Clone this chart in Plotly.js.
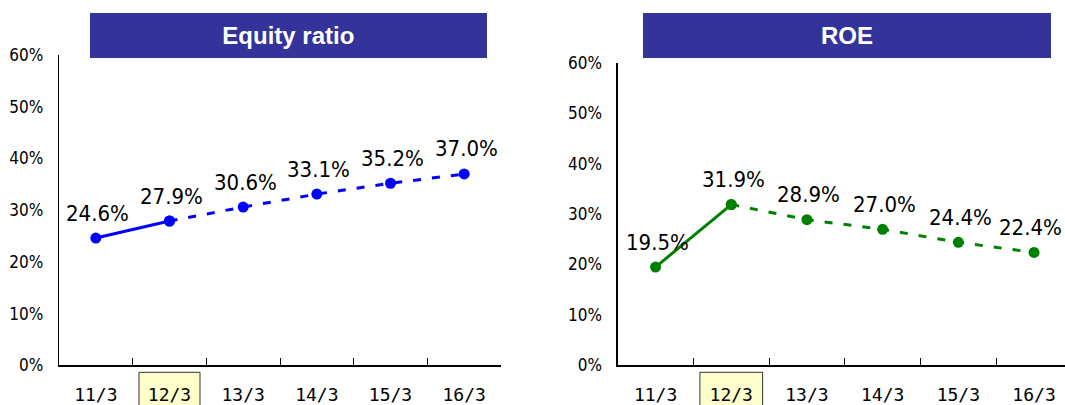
<!DOCTYPE html>
<html><head><meta charset="utf-8">
<script src="https://cdn.plot.ly/plotly-3.0.1.min.js"></script>
<style>html,body{margin:0;padding:0;background:#fff}#chart{width:1065px;height:405px}</style>
</head><body><div id="chart"></div>
<script>
// Fiscal periods (year/month of fiscal year end)
const periods = ['11/3', '12/3', '13/3', '14/3', '15/3', '16/3'];
// Equity ratio, %
const equityRatio = [24.6, 27.9, 30.6, 33.1, 35.2, 37.0];
// Return on equity, %
const roe = [19.5, 31.9, 28.9, 27.0, 24.4, 22.4];
// The first two periods are results, the rest are plan figures
const actualCount = 2;
const highlightPeriod = '12/3';
const yTicks = [0, 10, 20, 30, 40, 50, 60];
const panelTitles = ['Equity ratio', 'ROE'];

const W = 1065, H = 405;
const px = v => v / W;
const py = v => (H - v) / H;

const narrow = '"Liberation Sans Narrow", "DejaVu Sans Condensed", Arial, sans-serif';
const labelFont = {family: narrow, size: 22, color: '#000'};

function seriesTraces(vals, color, xa, ya) {
  const solidX = periods.slice(0, actualCount), solidY = vals.slice(0, actualCount);
  const dashX = periods.slice(actualCount - 1), dashY = vals.slice(actualCount - 1);
  const common = {type: 'scatter', mode: 'lines+markers', xaxis: xa, yaxis: ya,
    marker: {color: color, size: 11}, hoverinfo: 'skip', showlegend: false, cliponaxis: false};
  return [
    Object.assign({}, common, {x: solidX, y: solidY, line: {color: color, width: 3}}),
    Object.assign({}, common, {x: dashX, y: dashY, line: {color: color, width: 3, dash: '8px,11px'}})
  ];
}

// Value labels above each point; the last one on the right panel is nudged
// left so it stays inside the page edge.
function valueLabels(vals, xa, ya, edgeNudge) {
  return vals.map((v, i) => ({
    x: periods[i], y: v, xref: xa, yref: ya, text: v.toFixed(1) + '%',
    showarrow: false, yshift: 25, xshift: (edgeNudge && i === vals.length - 1) ? -4 : 2,
    font: labelFont
  }));
}

const data = [].concat(
  seriesTraces(equityRatio, '#0000ff', 'x', 'y'),
  seriesTraces(roe, '#008000', 'x2', 'y2')
);

function xAxis(domain, range, anchor) {
  return {
    domain: domain, type: 'category', range: range, anchor: anchor,
    showline: true, linecolor: '#000', linewidth: 1.3,
    ticks: 'inside', tickson: 'boundaries', ticklen: 7, tickcolor: '#000', tickwidth: 1,
    showgrid: false, zeroline: false, fixedrange: true,
    tickfont: {family: '"DejaVu Sans Mono", "Liberation Mono", monospace', size: 18, color: '#000'},
    ticklabelstandoff: 13
  };
}
function yAxis(domain, anchor) {
  return {
    domain: domain, range: [0, 60], anchor: anchor, tickvals: yTicks, ticktext: yTicks.map(t => t + '%'),
    showline: true, linecolor: '#000', linewidth: 1.3, ticks: '', showgrid: false,
    zeroline: false, fixedrange: true,
    tickfont: {family: narrow, size: 17, color: '#000'},
    ticklabelstandoff: 11
  };
}

const layout = {
  width: W, height: H, margin: {l: 0, r: 0, t: 0, b: 0},
  paper_bgcolor: '#fff', plot_bgcolor: 'rgba(0,0,0,0)', showlegend: false,
  xaxis: xAxis([px(59), px(501)], [-0.5, 5.5], 'y'),
  yaxis: yAxis([py(365.3), py(55)], 'x'),
  xaxis2: xAxis([px(617.7), 1], [-0.5, 5.409], 'y2'),
  yaxis2: yAxis([py(365.3), py(63)], 'x2')
};

const hi = periods.indexOf(highlightPeriod);
function highlightBox(xref) {
  return {type: 'rect', xref: xref, yref: 'paper', layer: 'below',
    x0: hi - 0.414, x1: hi + 0.414, y0: py(372.3), y1: -0.2,
    fillcolor: '#ffffcc', line: {color: '#333', width: 1}};
}

function titleBar(text, x0, x1) {
  return {
    xref: 'paper', yref: 'paper', x: px((x0 + x1) / 2), y: py(35), xanchor: 'center', yanchor: 'middle',
    text: '<b>' + text + '</b>', showarrow: false, bgcolor: '#333399', borderpad: 0, borderwidth: 0,
    width: x1 - x0, height: 44.6,
    font: {family: '"Liberation Sans", Arial, sans-serif', size: 24, color: '#fff'}
  };
}

layout.shapes = [highlightBox('x'), highlightBox('x2')];
layout.annotations = [].concat(
  [titleBar(panelTitles[0], 90, 486.7), titleBar(panelTitles[1], 642.7, 1050.7)],
  valueLabels(equityRatio, 'x', 'y', false),
  valueLabels(roe, 'x2', 'y2', true)
);

Plotly.newPlot('chart', data, layout, {staticPlot: true, displayModeBar: false});
</script>
</body></html>
